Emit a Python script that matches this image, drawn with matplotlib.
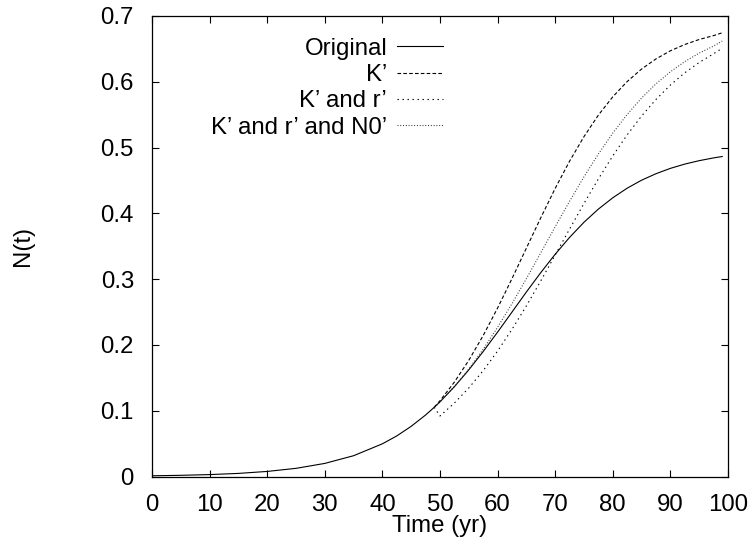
import matplotlib
matplotlib.use("Agg")
import matplotlib.pyplot as plt
from matplotlib.ticker import FixedLocator, FuncFormatter

# ---- data ----
t_orig = [0, 5, 10, 15, 20, 25, 30, 35, 40, 42.5, 45, 47.5, 49, 50, 52.5, 55, 57.5,
          60, 62.5, 65, 67.5, 70, 72.5, 75, 77.5, 80, 82.5, 85, 87.5, 90, 92.5,
          95, 97.5, 99]
n_orig = [0.0011, 0.0018, 0.0029, 0.0047, 0.0077, 0.0124, 0.0199, 0.0316, 0.0497,
          0.0617, 0.0763, 0.0935, 0.1052, 0.1135, 0.1365, 0.1621, 0.1900, 0.2195,
          0.2500, 0.2805, 0.3100, 0.3379, 0.3635, 0.3865, 0.4065, 0.4237, 0.4383,
          0.4504, 0.4603, 0.4684, 0.4749, 0.4801, 0.4843, 0.4864]

t_alt = [49, 50, 52.5, 55, 57.5, 60, 62.5, 65, 67.5, 70, 72.5, 75, 77.5, 80,
         82.5, 85, 87.5, 90, 92.5, 95, 97.5, 99]
n_k = [0.1052, 0.1152, 0.1435, 0.1766, 0.2143, 0.2561, 0.3008, 0.3472, 0.3934,
       0.4380, 0.4794, 0.5167, 0.5494, 0.5772, 0.6004, 0.6194, 0.6348, 0.6471,
       0.6567, 0.6643, 0.6702, 0.6745]
n_kr = [0.1052, 0.0920, 0.1117, 0.1346, 0.1609, 0.1907, 0.2237, 0.2594, 0.2974,
        0.3367, 0.3762, 0.4151, 0.4524, 0.4874, 0.5194, 0.5480, 0.5732, 0.5951,
        0.6137, 0.6294, 0.6426, 0.6510]
n_krn = [0.1052, 0.1136, 0.1368, 0.1634, 0.1935, 0.2268, 0.2628, 0.3008, 0.3401,
         0.3797, 0.4185, 0.4556, 0.4903, 0.5220, 0.5504, 0.5753, 0.5969, 0.6152,
         0.6307, 0.6436, 0.6543, 0.6620]

labels = ["Original", "K\u2019", "K\u2019 and r\u2019", "K\u2019 and r\u2019 and N0\u2019"]
x_ticks = [0, 10, 20, 30, 40, 50, 60, 70, 80, 90, 100]
y_ticks = [0, 0.1, 0.2, 0.3, 0.4, 0.5, 0.6, 0.7]

plt.rcParams['font.family'] = ['Liberation Sans', 'DejaVu Sans']
plt.rcParams['lines.scale_dashes'] = False

fig = plt.figure(figsize=(7.54, 5.42), dpi=100)
ax = fig.add_axes([152/754, 1 - 476.5/542, (728 - 152)/754, (476.5 - 16)/542])

lw = 0.8
ax.plot(t_orig, n_orig, color='black', lw=lw, label=labels[0])
ax.plot(t_alt, n_k, color='black', lw=lw, linestyle=(0, (2.6, 1.6)), label=labels[1])
ax.plot(t_alt, n_kr, color='black', lw=lw, linestyle=(0, (1.0, 2.6)), label=labels[2])
ax.plot(t_alt, n_krn, color='#333333', lw=lw, linestyle=(0, (0.7, 1.3)), label=labels[3])

ax.set_xlim(0, 100)
ax.set_ylim(0, 0.7)
ax.xaxis.set_major_locator(FixedLocator(x_ticks))
ax.yaxis.set_major_locator(FixedLocator(y_ticks))
ax.yaxis.set_major_formatter(FuncFormatter(lambda v, p: "0" if v == 0 else f"{v:.1f}"))
ax.tick_params(direction='in', length=5, width=0.8, top=True, right=True,
               labelsize=17.3)
ax.tick_params(axis='x', pad=12.5)
ax.tick_params(axis='y', pad=13)
for s in ax.spines.values():
    s.set_linewidth(0.9)

ax.set_xlabel("Time (yr)", fontsize=17.3)
ax.set_ylabel("N(t)", fontsize=17.3)
ax.xaxis.set_label_coords(0.5, -0.083)
ax.yaxis.set_label_coords(-0.205, 0.5)

leg = ax.legend(loc='upper right', bbox_to_anchor=(0.505, 0.953), frameon=False,
                markerfirst=False, fontsize=17.3, handlelength=1.9,
                handletextpad=0.42, labelspacing=0.18, borderaxespad=0,
                borderpad=0)
for col in leg._legend_handle_box.get_children():
    col.align = "right"

fig.savefig("out.png", dpi=100)
